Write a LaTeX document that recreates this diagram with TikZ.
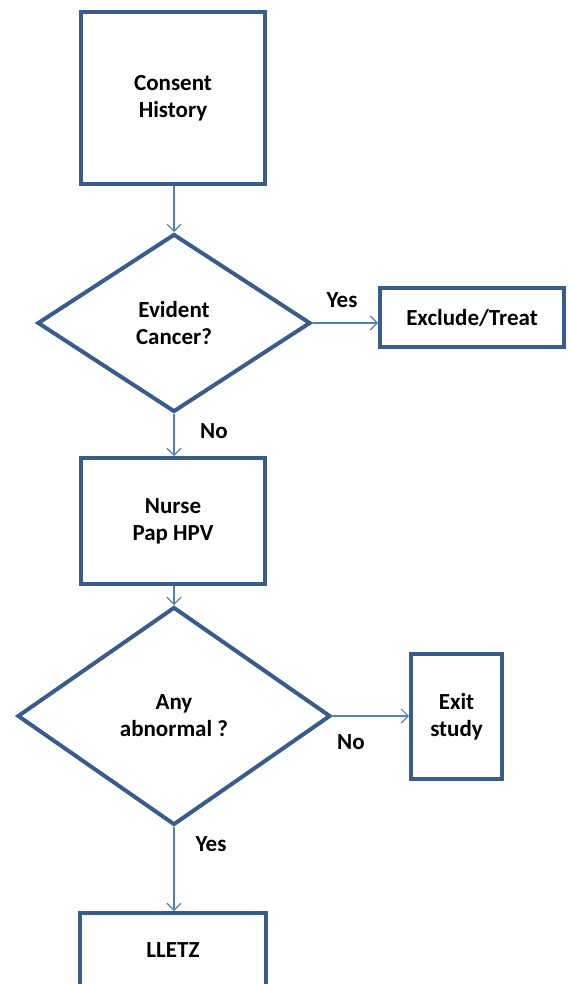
\documentclass[tikz,border=0pt]{standalone}
\usepackage{fontspec}
\setmainfont{Carlito}
\usepackage{tikz}
\usetikzlibrary{shapes.geometric, arrows.meta}
\definecolor{boxblue}{HTML}{385D8A}
\definecolor{linkblue}{HTML}{4F81BD}
\tikzset{
  stepbox/.style={
    rectangle,
    draw=boxblue, line width=4pt,
    fill=white,
    align=center,
    font=\fontsize{23}{27}\selectfont\bfseries},
  decision/.style={
    diamond,
    draw=boxblue, line width=4pt,
    fill=white,
    align=center, inner sep=0pt,
    font=\fontsize{23}{27}\selectfont\bfseries},
  link/.style={draw=linkblue, line width=1.2pt, -{Straight Barb[length=7pt,width=14pt]}},
  lbl/.style={font=\fontsize{23}{27}\selectfont\bfseries},
}
\begin{document}
\begin{tikzpicture}[x=1pt,y=-1pt]
			\useasboundingbox (0,0) rectangle (567,984);
			\node[stepbox, minimum width=184pt, minimum height=172pt] (consent) at (173,98) {Consent\\History};
			\node[decision, minimum width=273pt, minimum height=178pt] (cancer) at (174,323) {Evident\\Cancer?};
			\node[stepbox, minimum width=184pt, minimum height=59pt] (exclude) at (472,317.5) {Exclude/Treat};
			\node[stepbox, minimum width=184pt, minimum height=126pt] (nurse) at (173,521) {Nurse\\Pap HPV};
			\node[decision, minimum width=313pt, minimum height=218pt] (abnormal) at (174,716) {Any\\abnormal ?};
			\node[stepbox, minimum width=91pt, minimum height=125pt] (exit) at (456.5,716.5) {Exit\\study};
			\node[stepbox, minimum width=186pt, minimum height=74pt] (lletz) at (173,950) {LLETZ};
			\draw[link] (consent.south -| cancer.north) -- (cancer.north);
			\draw[link] (cancer.east) -- (exclude.west |- cancer.east);
			\draw[link] (cancer.south) -- (nurse.north -| cancer.south);
			\draw[link] (nurse.south -| abnormal.north) -- (abnormal.north);
			\draw[link] (abnormal.east) -- (exit.west |- abnormal.east);
			\draw[link] (abnormal.south) -- (lletz.north -| abnormal.south);
			\node[lbl] (yes1) at (342,300) {Yes};
			\node[lbl] (no1) at (214,431) {No};
			\node[lbl] (no2) at (351,742) {No};
			\node[lbl] (yes2) at (211,844) {Yes};
		\end{tikzpicture}
\end{document}
